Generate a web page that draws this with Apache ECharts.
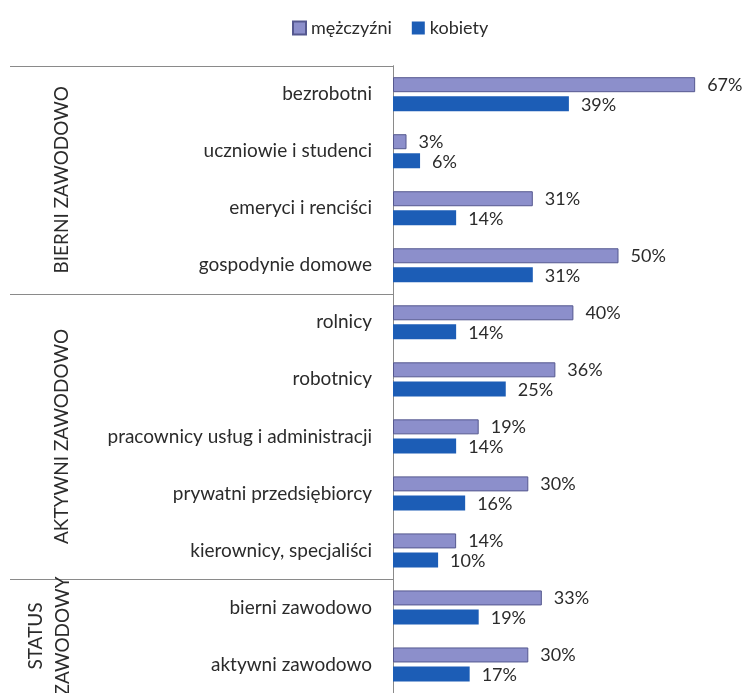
<!DOCTYPE html>
<html>
<head>
<meta charset="utf-8">
<script src="https://cdn.jsdelivr.net/npm/echarts@6/dist/echarts.min.js"></script>
<style>
  html, body { margin: 0; padding: 0; background: #ffffff; }
  #chart { width: 746px; height: 693px; }
</style>
</head>
<body>
<div id="chart"></div>
<script>
// Kategorie (od góry do dołu)
const categories = [
  'bezrobotni',
  'uczniowie i studenci',
  'emeryci i renciści',
  'gospodynie domowe',
  'rolnicy',
  'robotnicy',
  'pracownicy usług i administracji',
  'prywatni przedsiębiorcy',
  'kierownicy, specjaliści',
  'bierni zawodowo',
  'aktywni zawodowo'
];

const seriesNames = ['mężczyźni', 'kobiety'];
const menValues   = [67, 3, 31, 50, 40, 36, 19, 30, 14, 33, 30];
const womenValues = [39, 6, 14, 31, 14, 25, 14, 16, 10, 19, 17];

// Grupy: etykieta, indeks pierwszej i ostatniej kategorii
const groupLabels = ['BIERNI ZAWODOWO', 'AKTYWNI ZAWODOWO', 'STATUS\nZAWODOWY'];
const groupStart  = [0, 4, 9];
const groupEnd    = [3, 8, 10];

const FONT = 'Lato, "Open Sans", sans-serif';
const TEXT = '#2b2b2b';

const chart = echarts.init(document.getElementById('chart'));

const GRID_LEFT = 393;
const GRID_TOP = 65.7;
const GRID_W = 338.25;
const GRID_H = 633.6;

chart.setOption({
  animation: false,
  backgroundColor: '#ffffff',
  legend: {
    top: 14,
    left: 287,
    icon: 'rect',
    itemWidth: 13,
    itemHeight: 13,
    itemGap: 20,
    textStyle: { fontFamily: FONT, fontSize: 18, color: TEXT },
    data: seriesNames
  },
  grid: { left: GRID_LEFT, top: GRID_TOP, width: GRID_W, height: GRID_H, containLabel: false },
  xAxis: {
    type: 'value',
    min: 0,
    max: 75,
    show: false
  },
  yAxis: {
    type: 'category',
    inverse: true,
    data: categories,
    axisLine: { show: true, lineStyle: { color: '#8a8a8a', width: 1 } },
    axisTick: { show: false },
    axisLabel: { margin: 21, fontFamily: FONT, fontSize: 19, color: TEXT }
  },
  series: [
    {
      name: seriesNames[0],
      type: 'bar',
      data: menValues,
      barWidth: 15,
      barGap: '27%',
      itemStyle: { color: '#8c8fcb', borderColor: '#55588f', borderWidth: 1 },
      label: {
        show: true, position: 'right', distance: 12,
        formatter: '{c}%', fontFamily: FONT, fontSize: 18, color: TEXT
      }
    },
    {
      name: seriesNames[1],
      type: 'bar',
      data: womenValues,
      barWidth: 15,
      itemStyle: { color: '#1c5db6' },
      label: {
        show: true, position: 'right', distance: 12, offset: [0, 1],
        formatter: '{c}%', fontFamily: FONT, fontSize: 18, color: TEXT
      }
    }
  ]
});

// Linie oddzielające grupy i pionowe etykiety grup
function drawGroups() {
  const band = GRID_H / categories.length;
  const axisX = GRID_LEFT;
  const elements = [];
  const boundaries = [GRID_TOP];
  groupEnd.forEach(function (e) {
    const y = chart.convertToPixel({ yAxisIndex: 0 }, categories[e]) + band / 2;
    boundaries.push(y);
  });
  boundaries.forEach(function (y) {
    if (y > 693) return;
    const yy = Math.round(y) + 0.5;
    elements.push({
      type: 'line',
      shape: { x1: 10, y1: yy, x2: axisX, y2: yy },
      style: { stroke: '#8a8a8a', lineWidth: 1 },
      silent: true
    });
  });
  groupLabels.forEach(function (txt, i) {
    const y0 = chart.convertToPixel({ yAxisIndex: 0 }, categories[groupStart[i]]) - band / 2;
    const y1 = chart.convertToPixel({ yAxisIndex: 0 }, categories[groupEnd[i]]) + band / 2;
    const lines = txt.split('\n').length;
    elements.push({
      type: 'text',
      x: lines > 1 ? 49 : 62,
      y: (y0 + y1) / 2,
      rotation: Math.PI / 2,
      style: {
        text: txt,
        fontFamily: FONT,
        fontSize: 19,
        fill: TEXT,
        align: 'center',
        verticalAlign: 'middle',
        lineHeight: 27
      },
      silent: true
    });
  });
  chart.setOption({ graphic: { elements: elements } });
}
drawGroups();
</script>
</body>
</html>
